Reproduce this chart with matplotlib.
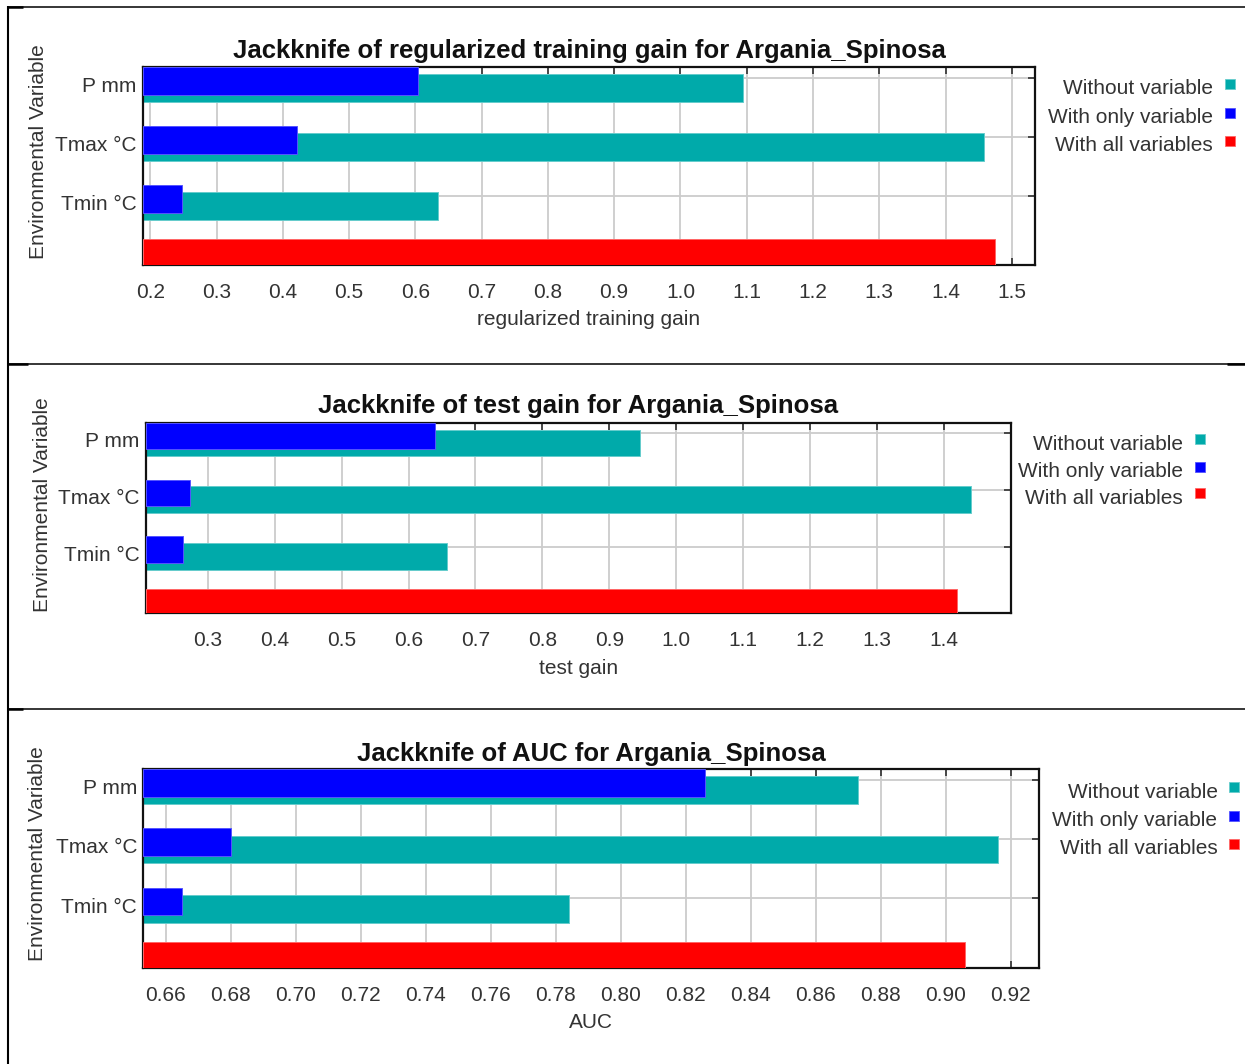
import matplotlib
matplotlib.use("Agg")
import matplotlib.pyplot as plt
from matplotlib.patches import Rectangle
from matplotlib.lines import Line2D
import numpy as np

plt.rcParams["font.family"] = ["Liberation Sans", "DejaVu Sans"]

# ---- data -----------------------------------------------------------------
variables = ["P mm", "Tmax °C", "Tmin °C"]

train_without = [1.095, 1.458, 0.634]
train_only = [0.604, 0.421, 0.248]
train_all = 1.474

test_without = [0.946, 1.440, 0.657]
test_only = [0.639, 0.273, 0.263]
test_all = 1.419

auc_without = [0.873, 0.916, 0.784]
auc_only = [0.826, 0.680, 0.665]
auc_all = 0.906

train_ticks = [0.2, 0.3, 0.4, 0.5, 0.6, 0.7, 0.8, 0.9, 1.0, 1.1, 1.2, 1.3, 1.4, 1.5]
test_ticks = [0.3, 0.4, 0.5, 0.6, 0.7, 0.8, 0.9, 1.0, 1.1, 1.2, 1.3, 1.4]
auc_ticks = [0.66, 0.68, 0.70, 0.72, 0.74, 0.76, 0.78, 0.80, 0.82, 0.84,
             0.86, 0.88, 0.90, 0.92]

species = "Argania_Spinosa"
legend_labels = ["Without variable", "With only variable", "With all variables"]

# ---- styling ----------------------------------------------------------------
C_WITHOUT = "#00aaaa"
C_ONLY = "#0000ff"
C_ALL = "#ff0000"
E_WITHOUT = "#66cccc"
E_ONLY = "#5555ff"
E_ALL = "#ff6666"
GRID = "#cccccc"
TXT = "#333333"

W, H = 1245, 1064
fig = plt.figure(figsize=(W / 100, H / 100), dpi=100)


def fx(px):
    return px / W


def fy(py):
    return 1 - py / H


def panel(box, xlim, ticks, fmt, without, only, allv, title, xlabel,
          title_base, ylab_xy, leg):
    left, right, top, bottom = box
    ax = fig.add_axes([fx(left), fy(bottom), fx(right - left), (bottom - top) / H])
    ax.set_xlim(*xlim)
    ax.set_ylim(3.17, -0.18)
    ax.set_axisbelow(True)

    x0 = xlim[0]
    n = len(without)
    ys = np.arange(n)
    ax.barh(ys + 0.175, np.array(without) - x0, left=x0, height=0.47,
            color=C_WITHOUT, edgecolor=E_WITHOUT, linewidth=0.7, zorder=2)
    ax.barh(ys + 0.055, np.array(only) - x0, left=x0, height=0.47,
            color=C_ONLY, edgecolor=E_ONLY, linewidth=0.7, zorder=3)
    ax.barh([n - 0.0475], [allv - x0], left=x0, height=0.435,
            color=C_ALL, edgecolor=E_ALL, linewidth=0.7, zorder=3)

    ax.set_xticks(ticks)
    ax.set_xticklabels([fmt.format(t) for t in ticks])
    ax.set_yticks(list(ys))
    ax.set_yticklabels([""] * n)
    ax.set_yticks(ys + 0.115, labels=variables, minor=True)

    ax.grid(True, which="major", color=GRID, linewidth=1.3, zorder=0)
    ax.tick_params(which="major", direction="in", length=5, width=1.1,
                   top=True, right=True, left=True, bottom=True,
                   color="#222222", labelsize=15, labelcolor=TXT, pad=13)
    ax.tick_params(axis="y", which="minor", length=0, pad=4.5,
                   labelsize=15, labelcolor=TXT)
    for s in ax.spines.values():
        s.set_linewidth(1.6)
        s.set_color("#111111")

    ax.set_xlabel(xlabel, fontsize=15, color=TXT, labelpad=6)

    cx = (left + right) / 2
    fig.text(fx(cx), fy(title_base), title, ha="center", va="baseline",
             fontsize=18.5, fontweight="bold", color="#111111")
    fig.text(fx(ylab_xy[0]), fy(ylab_xy[1]), "Environmental Variable",
             rotation=90, ha="center", va="center", fontsize=15, color=TXT)

    text_right, sq_left, row_centers = leg
    for lab, col, ec, yc in zip(legend_labels, [C_WITHOUT, C_ONLY, C_ALL],
                                [E_WITHOUT, E_ONLY, E_ALL], row_centers):
        fig.text(fx(text_right), fy(yc + 10.5), lab, ha="right",
                 va="baseline", fontsize=15, color=TXT)
        fig.patches.append(Rectangle((fx(sq_left), fy(yc + 5)), fx(10), 10 / H,
                                     transform=fig.transFigure,
                                     facecolor=col, edgecolor=ec, linewidth=0.6))
    return ax


panel((143, 1035, 67, 265), (0.189, 1.535), train_ticks, "{:.1f}",
      train_without, train_only, train_all,
      f"Jackknife of regularized training gain for {species}",
      "regularized training gain", 58, (38.5, 151.5),
      (1213, 1224.5, [84, 112.7, 140.7]))

panel((145.7, 1010.7, 422.7, 613.3), (0.2073, 1.4997), test_ticks, "{:.1f}",
      test_without, test_only, test_all,
      f"Jackknife of test gain for {species}",
      "test gain", 413.5, (43, 505),
      (1183, 1195, [439.3, 466.7, 493.3]))

panel((143.3, 1039, 769.3, 967.5), (0.6531, 0.9287), auc_ticks, "{:.2f}",
      auc_without, auc_only, auc_all,
      f"Jackknife of AUC for {species}",
      "AUC", 760.5, (38, 854),
      (1217.5, 1229.3, [787.3, 816, 844]))

# ---- frame lines separating the three panels --------------------------------
def hline(y, x0, x1, lw):
    fig.lines.append(Line2D([fx(x0), fx(x1)], [fy(y), fy(y)],
                            transform=fig.transFigure, color="black",
                            linewidth=lw, solid_capstyle="butt"))


fig.lines.append(Line2D([fx(7.7), fx(7.7)], [fy(6), fy(H)],
                        transform=fig.transFigure, color="black",
                        linewidth=1.5, solid_capstyle="butt"))
for yy in (6.7, 363.6, 708.5):
    hline(yy, 7, W, 1.1)
hline(7.2, 7, 23, 1.8)
hline(364.0, 7, 28, 1.8)
hline(708.9, 7, 23, 1.8)
hline(364.0, 1227, W, 1.8)

fig.savefig("out.png", dpi=100)
